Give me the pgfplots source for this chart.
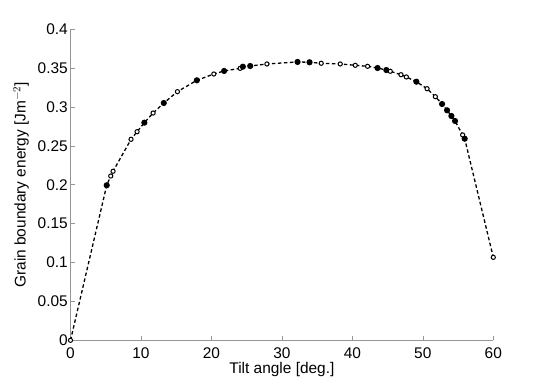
\documentclass[border=0pt]{standalone}
\usepackage{fontspec}
\setmainfont{Liberation Sans}
\usepackage{pgfplots}
\usepackage{pgfplotstable}
\pgfplotsset{compat=1.18}
\definecolor{AxisGray}{RGB}{150,150,150}

% tilt angle [deg], energy [J/m^2], marker type (f = filled, o = open)
\pgfplotstableread{
x      y       t
0.00   0.0000  o
5.14   0.1994  f
5.71   0.2113  o
6.04   0.2174  o
8.59   0.2585  o
9.45   0.2683  o
10.48  0.2799  f
11.72  0.2923  o
13.24  0.3052  f
15.17  0.3198  o
17.93  0.3344  f
20.34  0.3425  o
21.80  0.3464  f
24.08  0.3498  o
24.46  0.3519  f
25.50  0.3528  f
27.87  0.3554  o
32.22  0.3580  f
33.92  0.3576  f
35.58  0.3563  o
38.28  0.3554  o
40.41  0.3537  o
42.16  0.3524  o
43.58  0.3502  f
44.82  0.3476  f
45.38  0.3460  o
46.90  0.3416  o
47.66  0.3387  o
49.08  0.3326  f
50.60  0.3236  o
51.78  0.3133  o
52.73  0.3039  f
53.44  0.2958  f
54.05  0.2885  f
54.57  0.2821  f
55.65  0.2641  o
55.94  0.2593  f
60.00  0.1067  o
}\gbdata

\begin{document}
\begin{tikzpicture}
\begin{axis}[
    at={(0,0)}, anchor=south west,
    scale only axis,
    width=422.8bp,
    height=311bp,
    xmin=0, xmax=60,
    ymin=0, ymax=0.4,
    xtick={0,10,...,60},
    ytick={0,0.05,...,0.4},
    axis x line*=bottom,
    axis y line*=left,
    axis line style={draw=AxisGray, line width=0.8bp, -},
    tick style={draw=AxisGray, line width=0.6bp},
    tick align=inside,
    major tick length=4bp,
    scaled y ticks=false,
    yticklabel style={/pgf/number format/fixed, /pgf/number format/precision=2},
    /pgf/number format/assume math mode=true,
    tick label style={font=\fontsize{15.5}{17}\selectfont},
    label style={font=\fontsize{15.5}{17}\selectfont},
    xticklabel style={anchor=base, yshift=-18bp},
    yticklabel style={anchor=east, inner sep=0pt, xshift=-2.5bp},
    xlabel={Tilt angle [deg.]},
    ylabel={Grain boundary energy [Jm$^{-2}$]},
    xlabel style={at={(axis description cs:0.5,-0.106)}, anchor=base},
    ylabel style={at={(axis description cs:-0.106,0.5)}, anchor=base},
    clip=false,
]
\addplot[
    black, line width=1.3bp, dash pattern=on 3.5bp off 2.5bp,
    every mark/.append style={solid},
    scatter, scatter src=explicit symbolic,
    scatter/classes={
        f={mark=*, mark size=2.4bp, draw=black, fill=black},
        o={mark=*, mark size=2.1bp, draw=black, fill=white, line width=1bp}
    },
] table[x=x, y=y, meta=t] {\gbdata};
\end{axis}
\pgfresetboundingbox
\path[use as bounding box] (-70.5bp,-42.7bp) rectangle (474.5bp,340.3bp);
\end{tikzpicture}
\end{document}
